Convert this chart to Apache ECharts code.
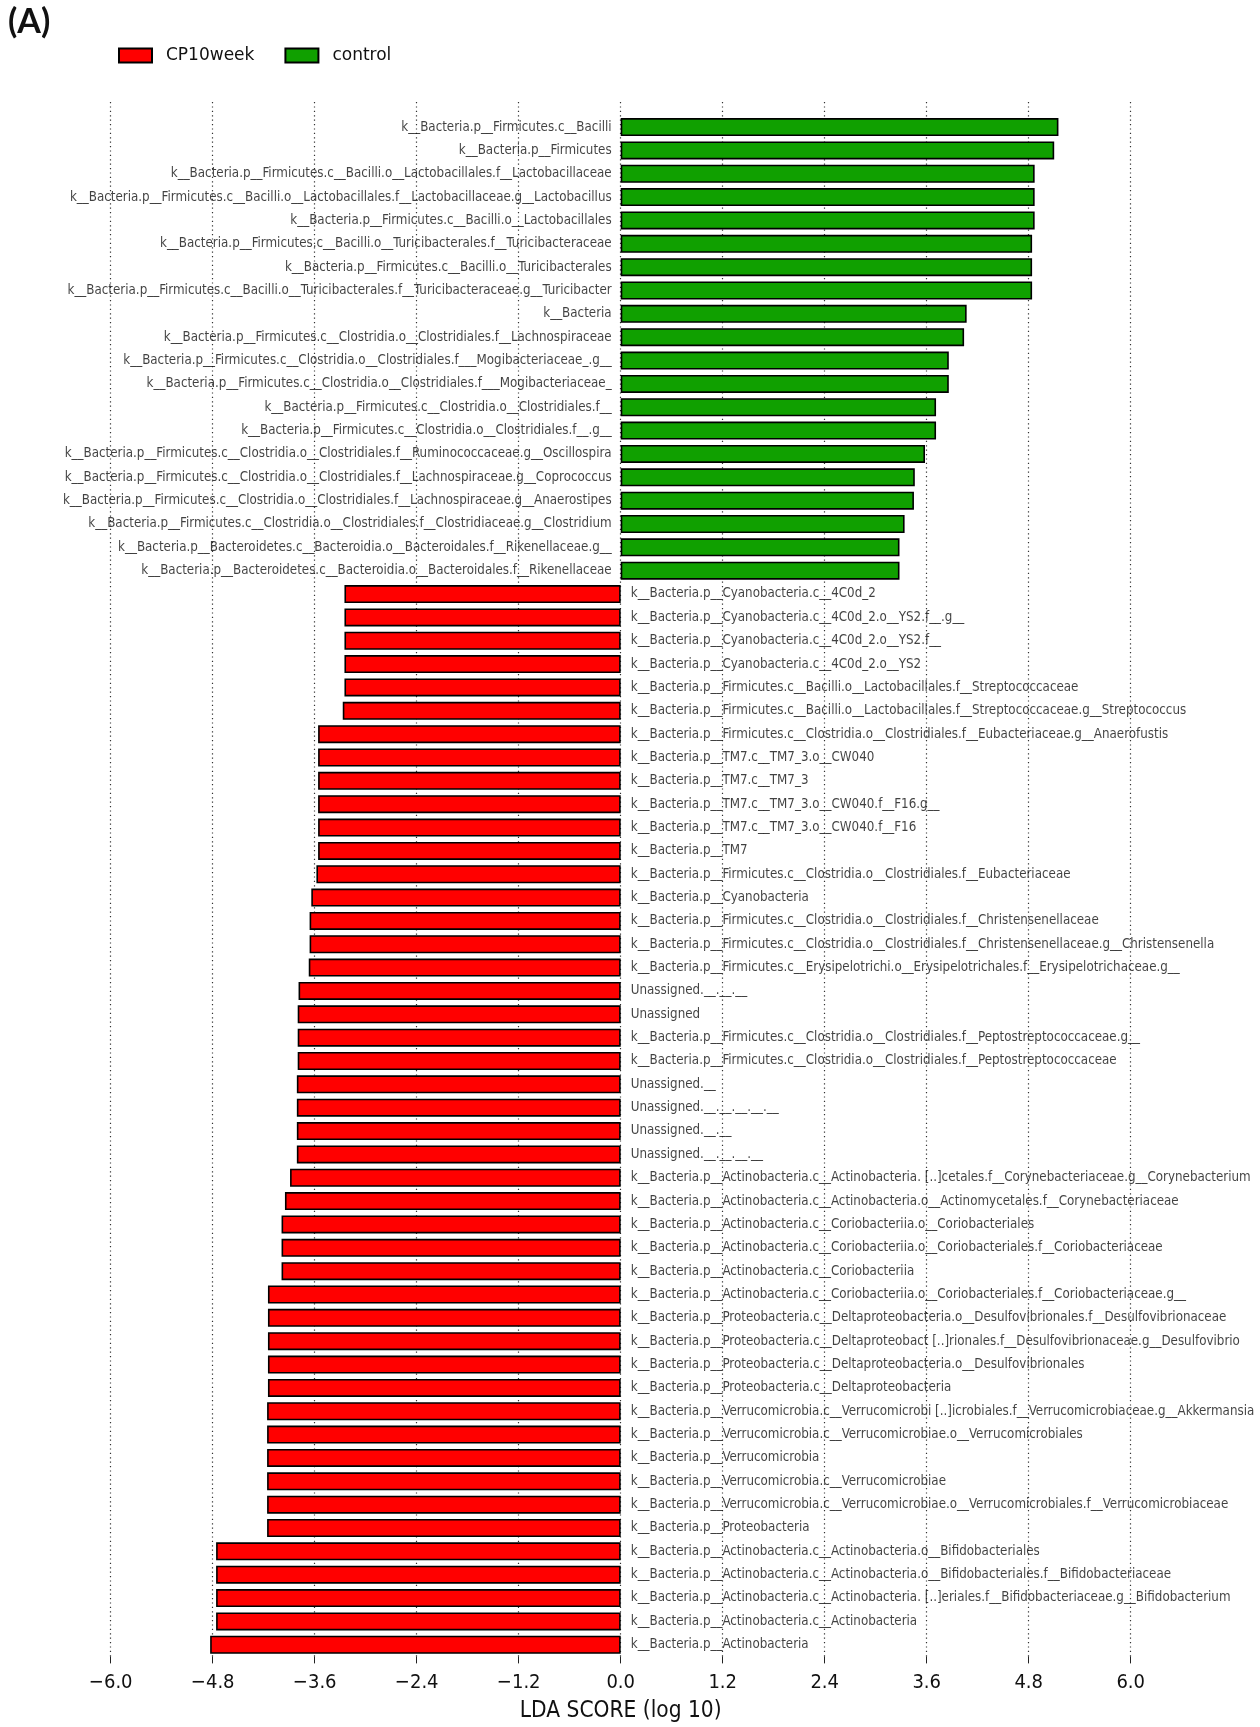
<!DOCTYPE html>
<html>
<head>
<meta charset="utf-8">
<script src="https://cdn.jsdelivr.net/npm/echarts@6/dist/echarts.min.js"></script>
<style>
html,body{margin:0;padding:0;background:#fff;}
#chart{width:1260px;height:1727px;}
</style>
</head>
<body>
<div id="chart"></div>
<script>
// ---- data ----
var controlTaxa = [
  "k__Bacteria.p__Firmicutes.c__Bacilli",
  "k__Bacteria.p__Firmicutes",
  "k__Bacteria.p__Firmicutes.c__Bacilli.o__Lactobacillales.f__Lactobacillaceae",
  "k__Bacteria.p__Firmicutes.c__Bacilli.o__Lactobacillales.f__Lactobacillaceae.g__Lactobacillus",
  "k__Bacteria.p__Firmicutes.c__Bacilli.o__Lactobacillales",
  "k__Bacteria.p__Firmicutes.c__Bacilli.o__Turicibacterales.f__Turicibacteraceae",
  "k__Bacteria.p__Firmicutes.c__Bacilli.o__Turicibacterales",
  "k__Bacteria.p__Firmicutes.c__Bacilli.o__Turicibacterales.f__Turicibacteraceae.g__Turicibacter",
  "k__Bacteria",
  "k__Bacteria.p__Firmicutes.c__Clostridia.o__Clostridiales.f__Lachnospiraceae",
  "k__Bacteria.p__Firmicutes.c__Clostridia.o__Clostridiales.f___Mogibacteriaceae_.g__",
  "k__Bacteria.p__Firmicutes.c__Clostridia.o__Clostridiales.f___Mogibacteriaceae_",
  "k__Bacteria.p__Firmicutes.c__Clostridia.o__Clostridiales.f__",
  "k__Bacteria.p__Firmicutes.c__Clostridia.o__Clostridiales.f__.g__",
  "k__Bacteria.p__Firmicutes.c__Clostridia.o__Clostridiales.f__Ruminococcaceae.g__Oscillospira",
  "k__Bacteria.p__Firmicutes.c__Clostridia.o__Clostridiales.f__Lachnospiraceae.g__Coprococcus",
  "k__Bacteria.p__Firmicutes.c__Clostridia.o__Clostridiales.f__Lachnospiraceae.g__Anaerostipes",
  "k__Bacteria.p__Firmicutes.c__Clostridia.o__Clostridiales.f__Clostridiaceae.g__Clostridium",
  "k__Bacteria.p__Bacteroidetes.c__Bacteroidia.o__Bacteroidales.f__Rikenellaceae.g__",
  "k__Bacteria.p__Bacteroidetes.c__Bacteroidia.o__Bacteroidales.f__Rikenellaceae"
];
var controlLDA = [5.15, 5.10, 4.87, 4.87, 4.87, 4.84, 4.84, 4.84, 4.07, 4.04,
                  3.86, 3.86, 3.71, 3.71, 3.58, 3.46, 3.45, 3.34, 3.28, 3.28];

var cp10Taxa = [
  "k__Bacteria.p__Cyanobacteria.c__4C0d_2",
  "k__Bacteria.p__Cyanobacteria.c__4C0d_2.o__YS2.f__.g__",
  "k__Bacteria.p__Cyanobacteria.c__4C0d_2.o__YS2.f__",
  "k__Bacteria.p__Cyanobacteria.c__4C0d_2.o__YS2",
  "k__Bacteria.p__Firmicutes.c__Bacilli.o__Lactobacillales.f__Streptococcaceae",
  "k__Bacteria.p__Firmicutes.c__Bacilli.o__Lactobacillales.f__Streptococcaceae.g__Streptococcus",
  "k__Bacteria.p__Firmicutes.c__Clostridia.o__Clostridiales.f__Eubacteriaceae.g__Anaerofustis",
  "k__Bacteria.p__TM7.c__TM7_3.o__CW040",
  "k__Bacteria.p__TM7.c__TM7_3",
  "k__Bacteria.p__TM7.c__TM7_3.o__CW040.f__F16.g__",
  "k__Bacteria.p__TM7.c__TM7_3.o__CW040.f__F16",
  "k__Bacteria.p__TM7",
  "k__Bacteria.p__Firmicutes.c__Clostridia.o__Clostridiales.f__Eubacteriaceae",
  "k__Bacteria.p__Cyanobacteria",
  "k__Bacteria.p__Firmicutes.c__Clostridia.o__Clostridiales.f__Christensenellaceae",
  "k__Bacteria.p__Firmicutes.c__Clostridia.o__Clostridiales.f__Christensenellaceae.g__Christensenella",
  "k__Bacteria.p__Firmicutes.c__Erysipelotrichi.o__Erysipelotrichales.f__Erysipelotrichaceae.g__",
  "Unassigned.__.__.__",
  "Unassigned",
  "k__Bacteria.p__Firmicutes.c__Clostridia.o__Clostridiales.f__Peptostreptococcaceae.g__",
  "k__Bacteria.p__Firmicutes.c__Clostridia.o__Clostridiales.f__Peptostreptococcaceae",
  "Unassigned.__",
  "Unassigned.__.__.__.__.__",
  "Unassigned.__.__",
  "Unassigned.__.__.__.__",
  "k__Bacteria.p__Actinobacteria.c__Actinobacteria. [..]cetales.f__Corynebacteriaceae.g__Corynebacterium",
  "k__Bacteria.p__Actinobacteria.c__Actinobacteria.o__Actinomycetales.f__Corynebacteriaceae",
  "k__Bacteria.p__Actinobacteria.c__Coriobacteriia.o__Coriobacteriales",
  "k__Bacteria.p__Actinobacteria.c__Coriobacteriia.o__Coriobacteriales.f__Coriobacteriaceae",
  "k__Bacteria.p__Actinobacteria.c__Coriobacteriia",
  "k__Bacteria.p__Actinobacteria.c__Coriobacteriia.o__Coriobacteriales.f__Coriobacteriaceae.g__",
  "k__Bacteria.p__Proteobacteria.c__Deltaproteobacteria.o__Desulfovibrionales.f__Desulfovibrionaceae",
  "k__Bacteria.p__Proteobacteria.c__Deltaproteobact [..]rionales.f__Desulfovibrionaceae.g__Desulfovibrio",
  "k__Bacteria.p__Proteobacteria.c__Deltaproteobacteria.o__Desulfovibrionales",
  "k__Bacteria.p__Proteobacteria.c__Deltaproteobacteria",
  "k__Bacteria.p__Verrucomicrobia.c__Verrucomicrobi [..]icrobiales.f__Verrucomicrobiaceae.g__Akkermansia",
  "k__Bacteria.p__Verrucomicrobia.c__Verrucomicrobiae.o__Verrucomicrobiales",
  "k__Bacteria.p__Verrucomicrobia",
  "k__Bacteria.p__Verrucomicrobia.c__Verrucomicrobiae",
  "k__Bacteria.p__Verrucomicrobia.c__Verrucomicrobiae.o__Verrucomicrobiales.f__Verrucomicrobiaceae",
  "k__Bacteria.p__Proteobacteria",
  "k__Bacteria.p__Actinobacteria.c__Actinobacteria.o__Bifidobacteriales",
  "k__Bacteria.p__Actinobacteria.c__Actinobacteria.o__Bifidobacteriales.f__Bifidobacteriaceae",
  "k__Bacteria.p__Actinobacteria.c__Actinobacteria. [..]eriales.f__Bifidobacteriaceae.g__Bifidobacterium",
  "k__Bacteria.p__Actinobacteria.c__Actinobacteria",
  "k__Bacteria.p__Actinobacteria"
];
// LDA scores (absolute) for CP10week-enriched taxa; drawn to the negative side
var cp10LDA = [3.25, 3.25, 3.25, 3.25, 3.25, 3.27, 3.56, 3.56, 3.56, 3.56,
               3.56, 3.56, 3.58, 3.64, 3.66, 3.66, 3.67, 3.79, 3.80, 3.80,
               3.80, 3.81, 3.81, 3.81, 3.81, 3.89, 3.95, 3.99, 3.99, 3.99,
               4.15, 4.15, 4.15, 4.15, 4.15, 4.16, 4.16, 4.16, 4.16, 4.16,
               4.16, 4.76, 4.76, 4.76, 4.76, 4.83];

var groupNames = ["CP10week", "control"];
var xTicks = { min: -6, max: 6, step: 1.2 };

// ---- build ----
var categories = controlTaxa.concat(cp10Taxa);
var nC = controlTaxa.length;
var controlData = categories.map(function (c, i) { return i < nC ? controlLDA[i] : null; });
var cp10Data = categories.map(function (c, i) { return i >= nC ? -cp10LDA[i - nC] : null; });
var controlLabelPts = controlTaxa.map(function (c, i) { return [0, i]; });
var cp10LabelPts = cp10Taxa.map(function (c, i) { return [0, nC + i]; });

var LABEL_FONT = "'DejaVu Sans Condensed', 'DejaVu Sans', sans-serif";
var chart = echarts.init(document.getElementById('chart'), null, { renderer: 'canvas' });

var option = {
  backgroundColor: '#ffffff',
  animation: false,
  title: {
    text: '(A)', left: 3, top: 0,
    textStyle: { fontSize: 34, fontWeight: 'bold', fontFamily: "Lato, 'Open Sans', 'DejaVu Sans', sans-serif", color: '#111' }
  },
  legend: {
    data: groupNames,
    left: 118, top: 47, padding: 0,
    itemWidth: 33, itemHeight: 14, itemGap: 30,
    icon: 'rect',
    textStyle: { fontSize: 17, fontFamily: "'DejaVu Sans', sans-serif", color: '#111', padding: [0, 0, 0, 9] }
  },
  grid: [
    { left: 110.7, width: 1020, top: 115.4, height: 1541, outerBoundsMode: 'none', containLabel: false },
    { left: 110.7, width: 1020, top: 102, height: 1555, outerBoundsMode: 'none', containLabel: false }
  ],
  xAxis: [
    {
      gridIndex: 0, type: 'value', min: xTicks.min, max: xTicks.max, interval: xTicks.step,
      axisLine: { show: false },
      axisTick: { show: true, length: 7, lineStyle: { color: '#222', width: 1 } },
      splitLine: { show: false },
      axisLabel: {
        margin: 16, fontSize: 20, color: '#111', fontFamily: LABEL_FONT,
        formatter: function (v) { var s = Math.abs(v).toFixed(1); return (v < -1e-9 ? '\u2212' : '') + s; }
      },
      name: 'LDA SCORE (log 10)', nameLocation: 'middle', nameGap: 43,
      nameTextStyle: { fontSize: 22.5, color: '#111', fontFamily: LABEL_FONT }
    },
    {
      gridIndex: 1, type: 'value', min: xTicks.min, max: xTicks.max, interval: xTicks.step,
      axisLine: { show: false }, axisTick: { show: false }, axisLabel: { show: false },
      splitLine: { show: true, lineStyle: { type: [1.2, 3.2], color: '#333', width: 1.2 } }
    }
  ],
  yAxis: [
    { gridIndex: 0, type: 'category', data: categories, inverse: true, show: false },
    { gridIndex: 1, type: 'value', min: 0, max: 1, show: false }
  ],
  series: [
    {
      name: 'CP10week', type: 'bar', xAxisIndex: 0, yAxisIndex: 0,
      data: cp10Data, barWidth: 18, barGap: '-100%',
      itemStyle: { color: '#ff0000', borderColor: '#000', borderWidth: 1.6 }
    },
    {
      name: 'control', type: 'bar', xAxisIndex: 0, yAxisIndex: 0,
      data: controlData, barWidth: 18, barGap: '-100%',
      itemStyle: { color: '#10a000', borderColor: '#000', borderWidth: 1.6 }
    },
    {
      type: 'scatter', xAxisIndex: 0, yAxisIndex: 0, data: controlLabelPts,
      symbolSize: 0.1, itemStyle: { color: 'transparent' }, silent: true, z: 5,
      label: {
        show: true, position: 'left', distance: 9, fontSize: 13.25, color: '#111', fontFamily: LABEL_FONT,
        formatter: function (p) { return controlTaxa[p.dataIndex]; }
      }
    },
    {
      type: 'scatter', xAxisIndex: 0, yAxisIndex: 0, data: cp10LabelPts,
      symbolSize: 0.1, itemStyle: { color: 'transparent' }, silent: true, z: 5,
      label: {
        show: true, position: 'right', distance: 10, fontSize: 13.25, color: '#111', fontFamily: LABEL_FONT,
        formatter: function (p) { return cp10Taxa[p.dataIndex]; }
      }
    }
  ]
};
chart.setOption(option);
</script>
</body>
</html>
